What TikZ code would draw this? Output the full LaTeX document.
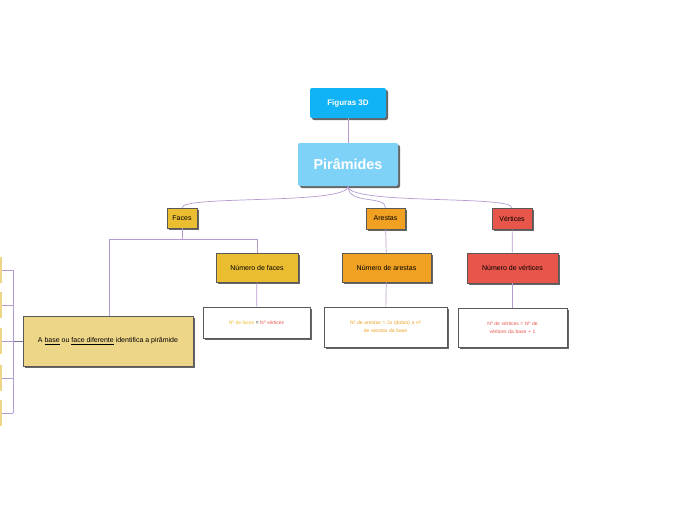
\documentclass[tikz,border=0pt]{standalone}
\usepackage{fontspec}
\setmainfont{Liberation Sans}
\usetikzlibrary{shadows}
\definecolor{fblue}{HTML}{10B3F5}
\definecolor{pblue}{HTML}{7FD2F7}
\definecolor{fyel}{HTML}{EBBD31}
\definecolor{aor}{HTML}{F0A122}
\definecolor{vred}{HTML}{E8554A}
\definecolor{byel}{HTML}{EED688}
\definecolor{lnk}{HTML}{B59BCF}
\begin{document}
\begin{tikzpicture}[x=1pt,y=-1pt,
 box/.style={draw=gray!70!black,line width=0.6pt,minimum height=0pt,inner sep=0pt,font=\scriptsize,align=center,
   drop shadow={shadow xshift=2pt,shadow yshift=-2pt,fill=black!60,opacity=1}},
 top/.style={rounded corners=2pt,draw=none,text=white,font=\bfseries},
 lk/.style={draw=lnk,line width=0.7pt}]
\useasboundingbox (0,0) rectangle (697,520);
\node[box,top,fill=fblue,minimum width=76pt,minimum height=30pt,font=\footnotesize\bfseries] (fig) at (348,103) {Figuras 3D};
\node[box,top,fill=pblue,minimum width=100pt,minimum height=43pt,font=\Large\bfseries] (pir) at (348,164.5) {Pirâmides};
\node[box,fill=fyel,minimum width=30pt,minimum height=20pt] (fa) at (182,218) {Faces};
\node[box,fill=aor,minimum width=39pt,minimum height=21pt] (ar) at (385.5,218.5) {Arestas};
\node[box,fill=vred,minimum width=40pt,minimum height=21pt] (ve) at (512,218.5) {Vértices};
\node[box,fill=fyel,minimum width=82pt,minimum height=29pt] (nf) at (257,267.5) {Número de faces};
\node[box,fill=aor,minimum width=89pt,minimum height=29pt] (na) at (386.5,267.5) {Número de arestas};
\node[box,fill=vred,minimum width=91pt,minimum height=30pt] (nv) at (512.5,268) {Número de vértices};
\node[box,fill=white,minimum width=107pt,minimum height=31pt,font=\tiny] (wf) at (256.5,322.5) {\textcolor{fyel}{Nº de faces} = \textcolor{vred}{Nº vértices}};
\node[box,fill=white,minimum width=123pt,minimum height=40pt,font=\tiny,text=aor,text width=115pt] (wa) at (385.5,327) {Nº de arestas = 2x (dobro) o nº\\[2pt] de arestas da base};
\node[box,fill=white,minimum width=109pt,minimum height=39pt,font=\tiny,text=vred,text width=100pt] (wv) at (512.5,327.5) {Nº de vértices = Nº de\\[2pt] vértices da base + 1};
\node[box,fill=byel,minimum width=170pt,minimum height=50pt] (bb) at (108,341) {A \underline{base} ou \underline{face diferente} identifica a pirâmide};
\draw[lk] (fig) -- (pir);
\draw[lk] (pir.south) .. controls (348,205) and (182,195) .. (fa.north);
\draw[lk] (pir.south) .. controls (348,205) and (385.5,195) .. (ar.north);
\draw[lk] (pir.south) .. controls (348,205) and (512,195) .. (ve.north);
\draw[lk] (fa.south) |- (109,239) -- (bb.north -| 109,0);
\draw[lk] (fa.south) |- (257,239) -- (nf.north);
\draw[lk] (ar) -- (na); \draw[lk] (ve) -- (nv);
\draw[lk] (nf) -- (wf); \draw[lk] (na) -- (wa); \draw[lk] (nv) -- (wv);
\coordinate (br) at (13,341);
\draw[draw=lnk!70!black,line width=0.7pt] (bb.west) -- (br);
\draw[lk] (13,270) -- (13,413);
\foreach \y/\h in {270/26,305/26,341/26,378/26,413/26}{
  \draw[lk] (13,\y) -- (0,\y);
  \fill[byel] (0,\y-\h/2) rectangle (1.5,\y+\h/2);
}
\end{tikzpicture}
\end{document}
